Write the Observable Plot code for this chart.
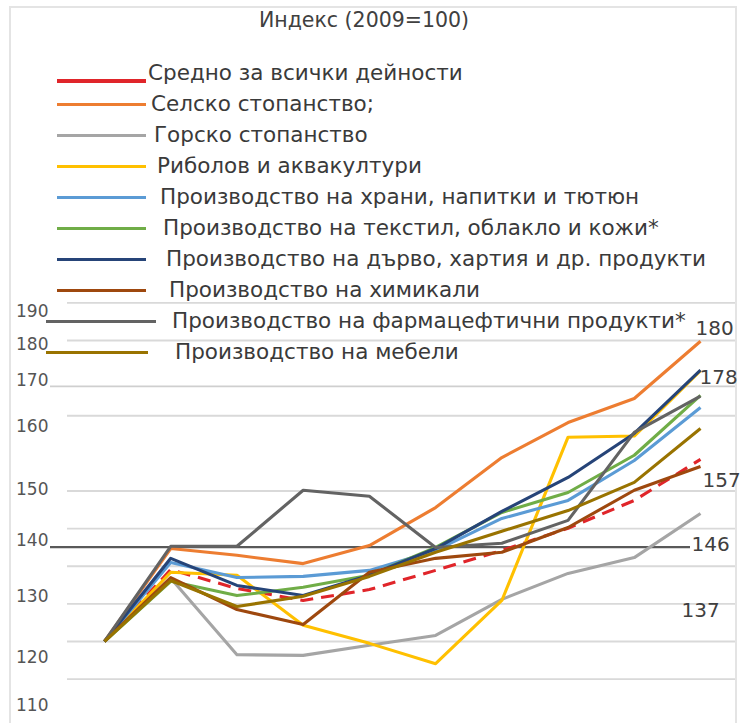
<!DOCTYPE html>
<html>
<head>
<meta charset="utf-8">
<script src="https://cdn.jsdelivr.net/npm/d3@7"></script>
<script src="https://cdn.jsdelivr.net/npm/@observablehq/plot@0.6"></script>
<style>
  html, body { margin: 0; padding: 0; background: #fff; }
  #wrap { position: relative; width: 741px; height: 723px; overflow: hidden; font-family: "DejaVu Sans", sans-serif; }
  #frame { position: absolute; left: 9px; top: 6px; width: 728px; height: 730px; border: 2px solid #e4e4e4; box-sizing: border-box; pointer-events: none; }
  #chart { position: absolute; left: 0; top: 0; }
  #title { position: absolute; left: 0; top: 8px; width: 728px; text-align: center; font-size: 20.5px; line-height: 24px; color: #404040; }
  .legline { position: absolute; left: 57px; width: 89px; }
  .legtext { position: absolute; font-size: 21.5px; line-height: 24px; color: #3a3a3a; white-space: nowrap; }
</style>
</head>
<body>
<div id="wrap">
  <div id="frame"></div>
  <div id="chart"></div>
  <div id="title">Индекс (2009=100)</div>
  <div id="legend"></div>
</div>
<script>
// ---- data (index values) ----
const years = [2009, 2010, 2011, 2012, 2013, 2014, 2015, 2016, 2017, 2018];

const seriesNames = [
  "Средно за всички дейности",
  "Селско стопанство;",
  "Горско стопанство",
  "Риболов и аквакултури",
  "Производство на храни, напитки и тютюн",
  "Производство на текстил, облакло и кожи*",
  "Производство на дърво, хартия и др. продукти",
  "Производство на химикали",
  "Производство на фармацефтични продукти*",
  "Производство на мебели"
];

const seriesColors = ["#e0252a", "#ed7d31", "#a5a5a5", "#ffc000", "#5b9bd5", "#70ad47", "#264478", "#9e480e", "#636363", "#997300"];

const avgAll      = [100, 119.1, 114.1, 110.9, 113.8, 118.9, 124.2, 130.1, 137.5, 148.4];
const agriculture = [100, 124.7, 122.9, 120.7, 125.5, 135.6, 148.9, 158.2, 164.6, 179.8];
const forestry    = [100, 116.8, 96.5, 96.3, 99.0, 101.6, 111.2, 118.1, 122.3, 134.0];
const fishing     = [100, 118.4, 117.6, 104.3, 99.5, 94.1, 110.9, 154.3, 154.6, 172.0];
const food        = [100, 121.0, 117.0, 117.3, 118.9, 124.2, 132.7, 137.5, 148.1, 162.2];
const textiles    = [100, 116.0, 112.2, 114.4, 117.6, 125.0, 134.3, 139.6, 149.5, 165.4];
const woodPaper   = [100, 122.1, 114.9, 112.2, 117.6, 124.7, 134.6, 143.6, 155.3, 172.1];
const chemicals   = [100, 117.0, 108.5, 104.5, 118.4, 122.1, 123.7, 130.3, 140.2, 146.5];
const pharma      = [100, 125.3, 125.3, 140.2, 138.6, 125.0, 126.1, 132.2, 155.6, 165.2];
const furniture   = [100, 116.2, 109.3, 112.0, 117.3, 123.7, 129.3, 134.8, 142.3, 156.6];

const seriesValues = [avgAll, agriculture, forestry, fishing, food, textiles, woodPaper, chemicals, pharma, furniture];

// gridlines (value scale), y tick labels as printed in the picture and where they sit on the value scale
const gridValues   = [90, 100, 110, 120, 130, 140, 160, 180, 190];
const guideValue   = 167.8;          // the light line printed next to "170"
const refLineValue = 125.1;          // the dark reference line printed next to "140"
const yTickLabels  = ["190", "180", "170", "160", "150", "140", "130", "120", "110"];
const yTickAt      = [187.6, 178.9, 169.4, 157.0, 140.4, 126.9, 112.0, 95.8, 83.0];

// end-of-line annotations as printed
const endLabels   = ["180", "178", "157", "146", "137"];
const endLabelAt  = [183.2, 170.2, 142.8, 125.8, 108.2];
const endLabelDx  = [-5, -1, 2, -9, -19];

// ---- build tidy rows ----
const rows = [];
seriesNames.forEach((name, s) => {
  years.forEach((yr, i) => rows.push({series: name, year: yr, value: seriesValues[s][i], order: s}));
});

const marks = [
  Plot.ruleY(gridValues, {stroke: "#d9d9d9", strokeWidth: 1.8, insetLeft: 17}),
  Plot.ruleY([guideValue], {stroke: "#cfcfcf", strokeWidth: 1.8}),
  Plot.ruleY([refLineValue], {stroke: "#595959", strokeWidth: 2.2, insetRight: 45}),
  Plot.text(yTickLabels, {
    y: (d, i) => yTickAt[i], text: d => d, frameAnchor: "left", textAnchor: "end", dx: -2,
    fontSize: 17, fill: "#555555"
  })
];

seriesNames.forEach((name, s) => {
  marks.push(Plot.line(rows.filter(r => r.order === s), {
    x: "year", y: "value",
    stroke: seriesColors[s], strokeWidth: 3.1,
    strokeDasharray: s === 0 ? "13,8" : null,
    strokeLinejoin: "round", strokeLinecap: "butt"
  }));
});

endLabels.forEach((lab, i) => {
  marks.push(Plot.text([lab], {
    x: () => years[years.length - 1], y: () => endLabelAt[i], text: d => d,
    dx: endLabelDx[i], textAnchor: "start", fontSize: 20, fill: "#404040"
  }));
});

const chart = Plot.plot({
  width: 741,
  height: 723,
  marginLeft: 50,
  marginRight: 6,
  marginTop: 0,
  marginBottom: 0,
  style: {fontFamily: "DejaVu Sans, sans-serif", background: "transparent", overflow: "visible"},
  x: {type: "linear", domain: [years[0], years[years.length - 1]], range: [104, 700], axis: null},
  y: {domain: [90, 190], range: [678.6, 302.4], axis: null},
  marks
});
document.getElementById("chart").appendChild(chart);

// ---- legend (overlaid, as in the reference) ----
const legend = document.getElementById("legend");
seriesNames.forEach((name, i) => {
  const rowTop = 58 + i * 31;
  const line = document.createElement("div");
  line.className = "legline";
  const lw = i === 0 ? 4 : 3;
  line.style.top = (rowTop + (i === 0 ? 23 : 15) - lw / 2) + "px";
  line.style.height = lw + "px";
  line.style.background = seriesColors[i];
  if (i >= 8) { line.style.left = "46px"; line.style.width = (i === 8 ? 110 : 102) + "px"; }
  legend.appendChild(line);
  const txt = document.createElement("div");
  txt.className = "legtext";
  txt.style.top = (rowTop + 3) + "px";
  txt.style.left = (148 + i * 3) + "px";
  txt.textContent = name;
  legend.appendChild(txt);
});
</script>
</body>
</html>
